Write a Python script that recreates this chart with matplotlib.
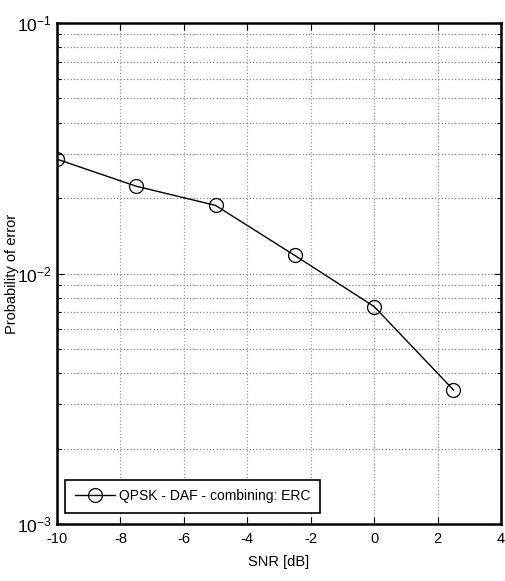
import matplotlib
matplotlib.use("Agg")
import matplotlib.pyplot as plt
from matplotlib.ticker import FixedLocator, LogLocator, NullFormatter

plt.rcParams['font.family'] = ['Liberation Sans', 'DejaVu Sans']
plt.rcParams['mathtext.fontset'] = 'custom'
plt.rcParams['mathtext.rm'] = 'Liberation Sans'

snr = [-10, -7.5, -5, -2.5, 0, 2.5]
pe = [0.0286, 0.0223, 0.0187, 0.0118, 0.00738, 0.00343]
series_label = 'QPSK - DAF - combining: ERC'
xticks = [-10, -8, -6, -4, -2, 0, 2, 4]
yticks = [1e-3, 1e-2, 1e-1]
ytick_labels = [r'$\mathregular{10^{-3}}$', r'$\mathregular{10^{-2}}$', r'$\mathregular{10^{-1}}$']

fig = plt.figure(figsize=(5.05, 5.81), dpi=100)
ax = fig.add_axes([57/505, 1-524/581, (501-57)/505, (524-23)/581])

ax.plot(snr, pe, color='black', lw=1.0, marker='o', ms=10, mfc='none', mec='black', mew=0.9,
        label=series_label)
ax.set_yscale('log')
ax.set_xlim(-10, 4)
ax.set_ylim(1e-3, 1e-1)
ax.set_xticks(xticks)
ax.set_xticklabels([str(t) for t in xticks])
ax.yaxis.set_major_locator(FixedLocator(yticks))
ax.set_yticklabels(ytick_labels)
ax.yaxis.set_minor_locator(LogLocator(base=10, subs=range(2, 10)))
ax.yaxis.set_minor_formatter(NullFormatter())

ax.grid(True, which='major', axis='x', color='#999999', ls=':', lw=0.9)
ax.grid(True, which='both', axis='y', color='#888888', ls=':', lw=0.9)

ax.tick_params(which='both', direction='in', top=True, right=True, labelsize=10.5, color='black')
ax.tick_params(axis='y', which='major', labelsize=12.5, pad=4)
ax.tick_params(which='major', length=5, width=0.8)
ax.tick_params(which='minor', length=3, width=0.8)
ax.tick_params(axis='x', pad=6)
for s in ax.spines.values():
    s.set_linewidth(1.8)

ax.set_xlabel('SNR [dB]', fontsize=10.5, labelpad=6)
ax.set_ylabel('Probability of error', fontsize=10.5)
ax.yaxis.set_label_coords(-0.085, 0.5)

leg = ax.legend(loc='lower left', bbox_to_anchor=(0.018, 0.022), fontsize=10, frameon=True,
                fancybox=False, edgecolor='black', framealpha=1, borderpad=0.7,
                handlelength=2.9, handletextpad=0.3, borderaxespad=0.0)
leg.get_frame().set_linewidth(1.2)

fig.savefig('out.png', dpi=100)
